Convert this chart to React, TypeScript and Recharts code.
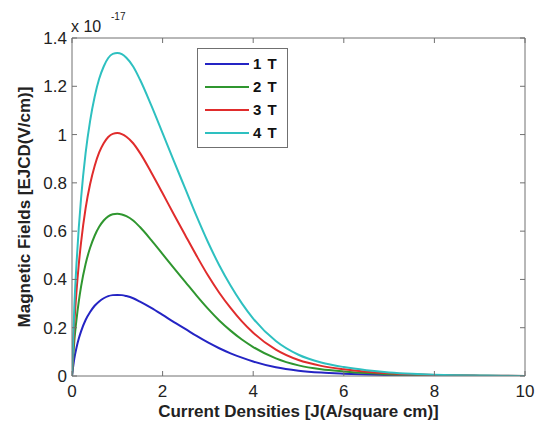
import { LineChart, Line, XAxis, YAxis } from "recharts";

// current density J (A/square cm)
const current = [0, 0.05, 0.1, 0.15, 0.2, 0.3, 0.4, 0.5, 0.6, 0.7, 0.8, 0.9, 1, 1.1, 1.2, 1.35, 1.5, 1.75, 2, 2.25, 2.5, 2.75, 3, 3.25, 3.5, 3.75, 4, 4.5, 5, 5.5, 6, 6.5, 7, 7.5, 8, 8.5, 9, 9.5, 10];

// magnetic field values, units of 1e-17 V/cm
const field1T = [0, 0.071, 0.118, 0.155, 0.185, 0.232, 0.265, 0.291, 0.309, 0.322, 0.331, 0.335, 0.336, 0.335, 0.331, 0.322, 0.308, 0.282, 0.253, 0.223, 0.195, 0.166, 0.139, 0.115, 0.094, 0.076, 0.06, 0.036, 0.022, 0.014, 0.0094, 0.006, 0.0037, 0.0024, 0.0013, 0.0008, 0.0005, 0.0003, 0.0001];
const field2T = [0, 0.141, 0.235, 0.309, 0.37, 0.464, 0.531, 0.581, 0.618, 0.644, 0.661, 0.67, 0.672, 0.669, 0.662, 0.644, 0.617, 0.563, 0.505, 0.447, 0.39, 0.333, 0.279, 0.23, 0.188, 0.151, 0.12, 0.073, 0.044, 0.028, 0.019, 0.012, 0.0074, 0.0047, 0.0027, 0.0017, 0.001, 0.0005, 0.0003];
const field3T = [0, 0.211, 0.352, 0.463, 0.553, 0.694, 0.795, 0.87, 0.926, 0.964, 0.99, 1.003, 1.006, 1.002, 0.991, 0.964, 0.924, 0.843, 0.757, 0.669, 0.583, 0.498, 0.417, 0.345, 0.282, 0.226, 0.179, 0.109, 0.066, 0.042, 0.028, 0.018, 0.011, 0.007, 0.004, 0.0025, 0.0015, 0.0008, 0.0004];
const field4T = [0, 0.281, 0.468, 0.615, 0.736, 0.923, 1.057, 1.157, 1.231, 1.282, 1.317, 1.334, 1.338, 1.333, 1.318, 1.282, 1.228, 1.121, 1.006, 0.89, 0.776, 0.662, 0.555, 0.459, 0.375, 0.301, 0.238, 0.145, 0.088, 0.056, 0.037, 0.024, 0.015, 0.009, 0.005, 0.003, 0.002, 0.001, 0.0005];

const xTicks = [0, 2, 4, 6, 8, 10];
const yTicks = [0, 0.2, 0.4, 0.6, 0.8, 1, 1.2, 1.4];

const seriesNames = ["1 T", "2 T", "3 T", "4 T"];
const seriesKeys = ["t1", "t2", "t3", "t4"];
const colors = ["#2424c4", "#2f962f", "#e02c2c", "#2ec0c0"];

const data = current.map((j, i) => ({
  j,
  t1: field1T[i],
  t2: field2T[i],
  t3: field3T[i],
  t4: field4T[i],
}));

const AXIS = "#707070";
const FONT = "'Liberation Sans', Arial, sans-serif";

function BottomTick({ x, y, payload }: any) {
  return (
    <g>
      <line x1={x} x2={x} y1={y} y2={y - 5} stroke={AXIS} />
      <text x={x} y={y + 21} textAnchor="middle" fontSize={17} fill="#222" fontFamily={FONT}>
        {payload.value}
      </text>
    </g>
  );
}

function LeftTick({ x, y, payload }: any) {
  return (
    <g>
      <line x1={x} x2={x + 5} y1={y} y2={y} stroke={AXIS} />
      <text x={x - 5} y={y + 6} textAnchor="end" fontSize={17} fill="#222" fontFamily={FONT}>
        {payload.value}
      </text>
    </g>
  );
}

function TopTick({ x, y }: any) {
  return <line x1={x} x2={x} y1={y} y2={y + 5} stroke={AXIS} />;
}

function RightTick({ x, y }: any) {
  return <line x1={x} x2={x - 5} y1={y} y2={y} stroke={AXIS} />;
}

// legend drawn as an overlay so it doesn't shrink the plot area
function LegendBox() {
  return (
    <div
      style={{
        position: "absolute",
        left: 197,
        top: 48,
        width: 78,
        border: `1px solid ${AXIS}`,
        background: "#fff",
        padding: "3px 4px 3px 7px",
        fontFamily: FONT,
        fontWeight: "bold",
        fontSize: 15,
        color: "#111",
      }}
    >
      {seriesNames.map((name, i) => (
        <div key={name} style={{ display: "flex", alignItems: "center", height: 23 }}>
          <svg width={44} height={6} style={{ marginRight: 4 }}>
            <line x1={0} x2={44} y1={3} y2={3} stroke={colors[i]} strokeWidth={2} />
          </svg>
          <span style={{ letterSpacing: 1 }}>{name}</span>
        </div>
      ))}
    </div>
  );
}

export default function App() {
  return (
    <div style={{ position: "relative", width: 546, height: 426, background: "#fff" }}>
      <style>{`body{margin:0}`}</style>
      <LineChart width={546} height={426} data={data} margin={{ top: 37, right: 20, bottom: 6, left: 22 }}>
        <XAxis
          dataKey="j"
          type="number"
          domain={[0, 10]}
          ticks={xTicks}
          allowDataOverflow
          height={44}
          tickSize={0}
          tickMargin={0}
          tickLine={false}
          tick={<BottomTick />}
          axisLine={{ stroke: AXIS }}
          label={{
            value: "Current Densities [J(A/square cm)]",
            position: "insideBottom",
            offset: 3,
            style: { fontFamily: FONT, fontWeight: "bold", fontSize: 17, fill: "#222" },
          }}
        />
        <XAxis
          xAxisId="top"
          orientation="top"
          dataKey="j"
          type="number"
          domain={[0, 10]}
          ticks={xTicks}
          allowDataOverflow
          height={1}
          tickSize={0}
          tickMargin={0}
          tickLine={false}
          tick={<TopTick />}
          axisLine={{ stroke: AXIS }}
        />
        <YAxis
          type="number"
          domain={[0, 1.4]}
          ticks={yTicks}
          allowDataOverflow
          width={50}
          tickSize={0}
          tickMargin={0}
          tickLine={false}
          tick={<LeftTick />}
          axisLine={{ stroke: AXIS }}
          label={{
            value: "Magnetic Fields [EJCD(V/cm)]",
            angle: -90,
            position: "insideLeft",
            offset: 2,
            style: { textAnchor: "middle", fontFamily: FONT, fontWeight: "bold", fontSize: 17, fill: "#222" },
          }}
        />
        <YAxis
          yAxisId="right"
          orientation="right"
          type="number"
          domain={[0, 1.4]}
          ticks={yTicks}
          allowDataOverflow
          width={1}
          tickSize={0}
          tickMargin={0}
          tickLine={false}
          tick={<RightTick />}
          axisLine={{ stroke: AXIS }}
        />
        {/* invisible series so the mirrored top/right axes get drawn (box + inner ticks) */}
        <Line
          xAxisId="top"
          yAxisId="right"
          dataKey="t4"
          stroke="none"
          dot={false}
          activeDot={false}
          legendType="none"
          isAnimationActive={false}
        />
        {seriesKeys.map((key, i) => (
          <Line
            key={key}
            dataKey={key}
            name={seriesNames[i]}
            type="monotone"
            stroke={colors[i]}
            strokeWidth={2}
            dot={false}
            isAnimationActive={false}
          />
        ))}
      </LineChart>
      <LegendBox />
      <span style={{ position: "absolute", left: 71, top: 19, fontFamily: FONT, fontSize: 16, lineHeight: "16px", color: "#222" }}>
        x 10
      </span>
      <span style={{ position: "absolute", left: 111, top: 12, fontFamily: FONT, fontSize: 10, lineHeight: "10px", color: "#222" }}>
        -17
      </span>
    </div>
  );
}
